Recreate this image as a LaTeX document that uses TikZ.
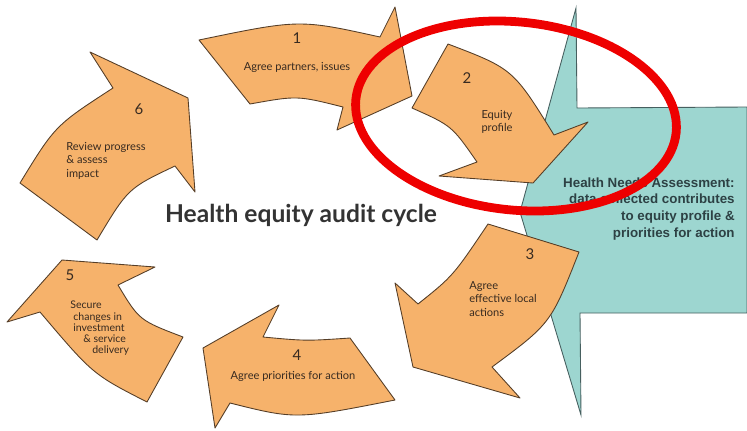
\documentclass[tikz,border=0pt]{standalone}
\usepackage{fontspec}
\usepackage{xcolor}
\setmainfont{Lato}
\newfontfamily\hnafont{Liberation Sans}

\definecolor{stagefill}{RGB}{246,178,107}
\definecolor{stagerim}{RGB}{85,62,40}
\definecolor{hnafill}{RGB}{157,214,208}
\definecolor{hnarim}{RGB}{70,95,95}
\definecolor{hnatext}{RGB}{45,65,68}
\definecolor{stagetext}{RGB}{55,42,32}
\definecolor{ringred}{RGB}{238,0,0}

\begin{document}
\begin{tikzpicture}[x=0.02cm,y=-0.02cm,
    stage/.style={draw=stagerim,fill=stagefill,line width=0.5pt,line join=round},
    stagenum/.style={font=\fontsize{8.5}{9}\selectfont,text=stagetext,inner sep=0pt,anchor=base},
    stagelbl/.style={font=\fontsize{6.3}{7.7}\selectfont,text=stagetext,inner sep=0pt}]
    \useasboundingbox (0,0) rectangle (747,430);

    % needs assessment callout
    \draw[fill=hnafill,draw=hnarim,line width=0.5pt] (576,8) -- (577,108) -- (747,107) -- (747,313)
        -- (580,313) -- (581,415) -- (520,212) -- cycle;
    \node[font=\hnafont\bfseries\fontsize{7.6}{9.6}\selectfont,text=hnatext,align=right,
        anchor=north east,inner sep=0pt] (hna) at (735,177)
        {Health Needs Assessment:\\data collected contributes\\to equity profile \&\\priorities for action};

    % the six stages
    \draw[stage] (199,40) .. controls (299.5,19.2) .. (380,37) -- (395,7) -- (412,96) -- (337,130)
        -- (343,107) .. controls (297.2,95.5) .. (250,104) -- cycle;
    \draw[stage] (448,44) -- (412,108) .. controls (451.8,125.7) .. (477,162) -- (439,176) -- (533,183)
        -- (588,122) -- (554,135) .. controls (513,68.8) .. cycle;
    \draw[stage] (488,224) -- (579,252) .. controls (550.8,323.5) .. (492,367) -- (520,398) -- (413,367)
        -- (395,283) -- (418,304) .. controls (453,276) .. cycle;
    \draw[stage] (350,338) -- (395,400) .. controls (295.8,419.5) .. (230,403) -- (215,428) -- (203,348)
        -- (279,305) -- (263,337) .. controls (306,341) .. cycle;
    \draw[stage] (183,337) -- (147,402) .. controls (92.8,374.3) .. (40,312) -- (7,322) -- (62,260)
        -- (155,267) -- (118,285) .. controls (139.2,320.3) .. cycle;
    \draw[stage] (97,240) -- (20,183) .. controls (55.2,125.5) .. (113,88) -- (90,52) -- (188,98)
        -- (195,192) -- (175,166) .. controls (128,188.3) .. cycle;

    % stage labels
    \node[stagenum] (num1) at (297,43) {1};
    \node[stagelbl,anchor=base] (lbl1) at (297,70) {Agree partners, issues};
    \node[stagenum] (num2) at (467,83) {2};
    \node[stagelbl,align=center] (lbl2) at (497,122) {Equity\\profile};
    \node[stagenum] (num3) at (530,259) {3};
    \node[stagelbl,align=left,anchor=north west] (lbl3) at (469,281) {Agree\\effective local\\actions};
    \node[stagenum] (num4) at (297,360) {4};
    \node[stagelbl,anchor=base] (lbl4) at (293,379) {Agree priorities for action};
    \node[stagenum] (num5) at (70,280) {5};
    \node[stagelbl,font=\fontsize{6}{6.3}\selectfont,align=left,anchor=north west] (lbl5) at (70,301)
        {Secure\\\hspace*{1.7pt}changes in\\\hspace*{1.7pt}investment\\\hspace*{7.4pt}\& service\\\hspace*{12.5pt}delivery};
    \node[stagenum] (num6) at (139,114) {6};
    \node[stagelbl,align=left,anchor=north west] (lbl6) at (66,142) {Review progress\\\& assess\\impact};

    % title
    \node[font=\bfseries\fontsize{14}{16}\selectfont,text=black!80,anchor=base,inner sep=0pt] (title)
        at (301,222) {Health equity audit cycle};

    % highlight
    \draw[ringred,line width=5pt,shift={(516,116)},rotate=-6] (0,0) ellipse [x radius=161,y radius=94];
\end{tikzpicture}
\end{document}
